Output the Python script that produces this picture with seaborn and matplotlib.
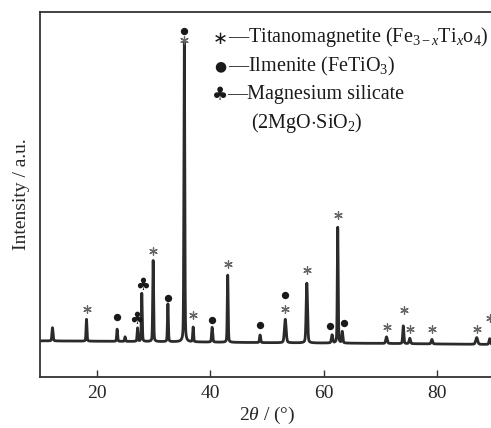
import numpy as np
import pandas as pd
import matplotlib
matplotlib.use("Agg")
import matplotlib.pyplot as plt
import seaborn as sns

# Diffraction peaks: position (2θ, °), peak-top intensity (a.u.), FWHM (°)
peak_pos = [12.2, 18.2, 23.6, 25.0, 27.2, 27.95, 29.95, 32.55, 35.45, 37.0,
            40.35, 43.1, 48.8, 53.25, 57.05, 61.5, 62.5, 63.3, 71.1, 74.05,
            75.2, 79.1, 87.0, 89.3]
peak_top = [135, 158, 131, 110, 134, 229, 319, 200, 918, 136,
            136, 279, 115, 158, 257, 115, 410, 124, 110, 140,
            106, 103, 108, 105]
peak_fwhm = [0.22, 0.18, 0.18, 0.18, 0.18, 0.18, 0.18, 0.18, 0.18, 0.18,
             0.22, 0.18, 0.22, 0.35, 0.28, 0.28, 0.18, 0.22, 0.3, 0.22,
             0.28, 0.28, 0.4, 0.28]

# Background level along the scan
bg_pos = [10, 30, 50, 70, 90]
bg_val = [99, 97, 94, 92, 89]

# Phase labels above the reflections (2θ, height)
magnetite_x = [18.2, 29.9, 35.45, 37.0, 43.1, 53.25, 57.05, 62.5, 71.1, 74.1, 75.3, 79.1, 87.0, 89.3]
magnetite_y = [185, 346, 923, 170, 310, 186, 293, 444, 136, 184, 131, 131, 131, 162]
ilmenite_x = [23.5, 32.6, 35.45, 40.3, 48.8, 53.25, 61.1, 63.6]
ilmenite_y = [165, 217, 948, 156, 142, 224, 141, 147]
silicate_x = [27.1, 28.0]
silicate_y = [158, 252]

x_ticks = [20, 40, 60, 80]

# Build the scan profile from the peak list (pseudo-Voigt line shapes)
two_theta = np.arange(10, 90.001, 0.01)
intensity = np.interp(two_theta, bg_pos, bg_val).astype(float)
for p, h, w in zip(peak_pos, peak_top, peak_fwhm):
    base = np.interp(p, bg_pos, bg_val)
    g = (w / 2) ** 2
    lor = g / ((two_theta - p) ** 2 + g)
    gau = np.exp(-4 * np.log(2) * (two_theta - p) ** 2 / w ** 2)
    intensity += (h - base) * (0.3 * lor + 0.7 * gau)
scan = pd.DataFrame({"two_theta": two_theta, "intensity": intensity})

sns.set_style("ticks")
plt.rcParams["font.family"] = ["Liberation Serif", "DejaVu Sans"]
plt.rcParams["mathtext.fontset"] = "custom"
plt.rcParams["mathtext.rm"] = "Liberation Serif"
plt.rcParams["mathtext.it"] = "Liberation Serif:italic"

W, H = 491, 428
fig = plt.figure(figsize=(W / 100, H / 100), dpi=100)
ax = fig.add_axes([40 / W, (H - 377) / H, (493.7 - 40) / W, (377 - 12) / H])

sns.lineplot(data=scan, x="two_theta", y="intensity", ax=ax,
             color="#2b2b2b", linewidth=2.0)

ax.set_xlim(10, 90)
ax.set_ylim(0, 1000)
ax.set_xticks(x_ticks)
ax.set_xticklabels([str(t) for t in x_ticks], fontsize=14)
ax.set_yticks([])
ax.tick_params(axis="x", direction="in", length=5, width=1.0, pad=6, color="#333333")
ax.spines["right"].set_visible(False)
for s in ["left", "bottom", "top"]:
    ax.spines[s].set_linewidth(1.3)
    ax.spines[s].set_color("#333333")

ax.set_xlabel(r"2$\theta$ / (°)", fontsize=14, labelpad=2)
ax.set_ylabel("Intensity / a.u.", fontsize=14, labelpad=7)

# Phase markers
ax.scatter(magnetite_x, magnetite_y, marker=(6, 2, 0), s=30, color="#666666",
           linewidths=0.9, clip_on=False, zorder=3)
ax.scatter(ilmenite_x, ilmenite_y, marker="o", s=28, color="#1a1a1a",
           linewidths=0, clip_on=False, zorder=3)
for x, y in zip(silicate_x, silicate_y):
    ax.text(x, y, "\u2663", fontsize=12, family="DejaVu Sans", color="#1a1a1a",
            ha="center", va="center", zorder=3)

# Phase key
def fx(px):
    return px / W

def fy(py):
    return 1 - py / H

fig.text(fx(220), fy(39), "\u2217", fontsize=13, family="DejaVu Sans",
         ha="center", va="center", color="#1a1a1a")
fig.text(fx(220), fy(66), "\u25CF", fontsize=10, family="DejaVu Sans",
         ha="center", va="center", color="#1a1a1a")
fig.text(fx(220), fy(95), "\u2663", fontsize=13, family="DejaVu Sans",
         ha="center", va="center", color="#1a1a1a")
fig.text(fx(227.5), fy(37), r"—Titanomagnetite (Fe$_{3-x}$Ti$_{x}$o$_{4}$)",
         fontsize=14.5, ha="left", va="center", color="#1a1a1a")
fig.text(fx(227.5), fy(66), r"—Ilmenite (FeTiO$_{3}$)",
         fontsize=14.5, ha="left", va="center", color="#1a1a1a")
fig.text(fx(227.5), fy(95), "—Magnesium silicate",
         fontsize=14.5, ha="left", va="center", color="#1a1a1a")
fig.text(fx(251), fy(123), r"(2MgO$\cdot$SiO$_{2}$)",
         fontsize=14.5, ha="left", va="center", color="#1a1a1a")

fig.savefig("out.png", dpi=100)
